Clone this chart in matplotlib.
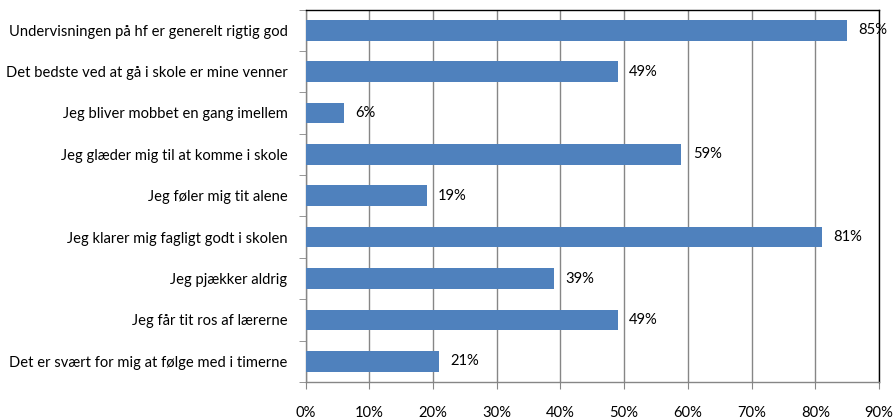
import matplotlib
matplotlib.use("Agg")
import matplotlib.pyplot as plt
from matplotlib.ticker import FixedLocator

categories = [
    "Undervisningen på hf er generelt rigtig god",
    "Det bedste ved at gå i skole er mine venner",
    "Jeg bliver mobbet en gang imellem",
    "Jeg glæder mig til at komme i skole",
    "Jeg føler mig tit alene",
    "Jeg klarer mig fagligt godt i skolen",
    "Jeg pjækker aldrig",
    "Jeg får tit ros af lærerne",
    "Det er svært for mig at følge med i timerne",
]
values = [85, 49, 6, 59, 19, 81, 39, 49, 21]
xticks = [0, 10, 20, 30, 40, 50, 60, 70, 80, 90]

plt.rcParams['font.family'] = ['Lato', 'DejaVu Sans']
FS = 10.6

W, H = 893, 418
fig = plt.figure(figsize=(W / 100, H / 100), dpi=100)
ax = fig.add_axes([305.5 / W, 1 - 382 / H, (879 - 305.5) / W, (382 - 9.5) / H])

n = len(categories)
ypos = list(range(n))
ax.barh(ypos, values, height=0.5, color="#4F81BD", zorder=3)
ax.set_ylim(n - 0.5, -0.5)
ax.set_xlim(0, 90)

for y, v in zip(ypos, values):
    ax.text(v + 1.8, y, f"{v}%", va="center", ha="left", fontsize=FS, color="black", zorder=4)

ax.set_xticks(xticks)
ax.set_xticklabels([f"{t}%" for t in xticks], fontsize=FS)
ax.set_yticks(ypos)
ax.set_yticklabels(categories, fontsize=FS)
ax.tick_params(axis="y", length=0, pad=13)
ax.yaxis.set_minor_locator(FixedLocator([i - 0.5 for i in range(n + 1)]))
ax.tick_params(axis="y", which="minor", length=5, color="#868686", direction="out")
ax.tick_params(axis="x", length=5, color="#868686", direction="out", pad=12)

ax.grid(axis="x", color="#868686", linewidth=1, zorder=0)
for s in ["left", "bottom"]:
    ax.spines[s].set_color("#868686")
    ax.spines[s].set_linewidth(1)
for s in ["top", "right"]:
    ax.spines[s].set_color("black")
    ax.spines[s].set_linewidth(1)

fig.savefig("out.png", dpi=100)
